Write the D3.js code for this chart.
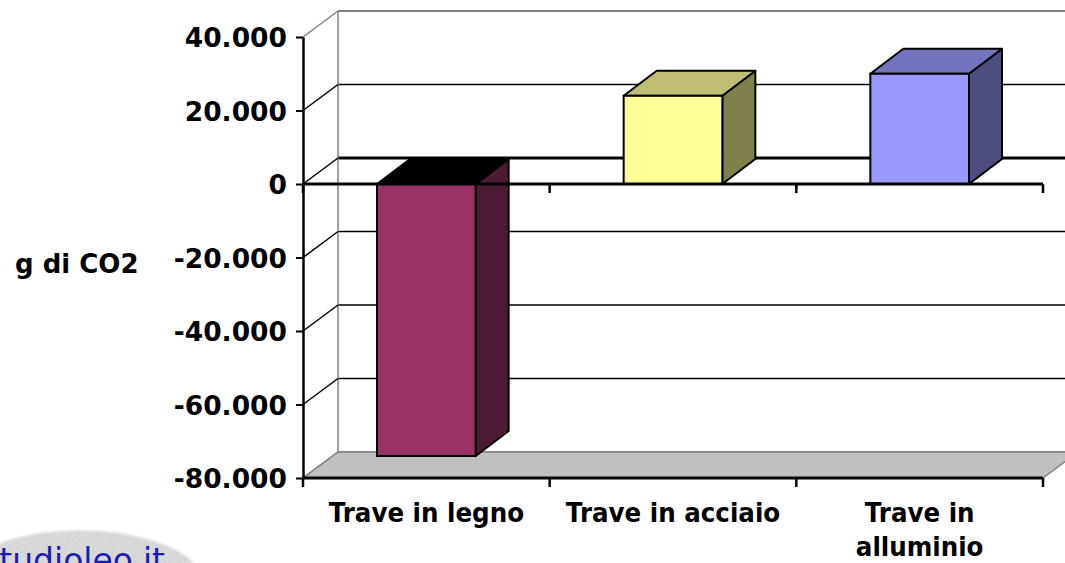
<!DOCTYPE html>
<html>
<head>
<meta charset="utf-8">
<script src="https://cdn.jsdelivr.net/npm/d3@7"></script>
<style>
  html, body { margin: 0; padding: 0; background: #ffffff; }
  svg { display: block; }
</style>
</head>
<body>
<svg id="chart" width="1065" height="563"></svg>
<script>
// CO2 balance of three beam materials (grams of CO2)
const categories = ["Trave in legno", "Trave in acciaio", "Trave in alluminio"];
const categoryLines = [["Trave in legno"], ["Trave in acciaio"], ["Trave in", "alluminio"]];
const values = [-74000, 24000, 30000];
const yTicks = [-80000, -60000, -40000, -20000, 0, 20000, 40000];
const yTitle = "g di CO2";
const watermark = "studioleo.it";

// palette: front, side and top faces of each column
const frontColors = ["#993366", "#ffff99", "#9999ff"];
const sideColors  = ["#4d1a33", "#80804d", "#4d4d80"];
const topColors   = ["#000000", "#bfbf73", "#7373bf"];

const svg = d3.select("#chart");

// Italian number format: 40.000, -80.000
const it = d3.formatLocale({ decimal: ",", thousands: ".", grouping: [3], currency: ["€", ""], minus: "-" });
const fmt = it.format(",.0f");

const y = d3.scaleLinear().domain([-80000, 40000]).range([478, 37]);
const x = d3.scaleBand().domain(categories).range([303, 1043]).paddingInner(0).paddingOuter(0);

// depth of the 3D box (wall) and of the columns
const wall = { dx: 35, dy: -26 };
const depth = { dx: 33, dy: -25 };
const xL = x.range()[0], xR = x.range()[1];

// --- watermark blob in the lower-left corner
const defs = svg.append("defs");
const grain = defs.append("filter").attr("id", "grain").attr("x", 0).attr("y", 0).attr("width", 1).attr("height", 1);
grain.append("feTurbulence").attr("type", "fractalNoise").attr("baseFrequency", 0.9).attr("numOctaves", 2).attr("seed", 7).attr("result", "noise");
grain.append("feColorMatrix").attr("in", "noise").attr("type", "matrix")
  .attr("values", "0 0 0 0 0.5  0 0 0 0 0.5  0 0 0 0 0.5  1.6 0 0 0 -0.5").attr("result", "speck");
grain.append("feComposite").attr("in", "speck").attr("in2", "SourceGraphic").attr("operator", "in");
const soft = defs.append("filter").attr("id", "soft");
soft.append("feGaussianBlur").attr("stdDeviation", 1);

const wm = svg.append("g").attr("class", "watermark");
wm.append("ellipse").attr("cx", 80).attr("cy", 585).attr("rx", 125).attr("ry", 55)
  .attr("fill", "#dedede").attr("filter", "url(#soft)");
wm.append("ellipse").attr("cx", 80).attr("cy", 585).attr("rx", 123).attr("ry", 53)
  .attr("fill", "#000").attr("opacity", 0.6).attr("filter", "url(#grain)");
wm.append("text").attr("x", -18).attr("y", 572)
  .attr("font-family", "DejaVu Sans, Verdana, sans-serif").attr("font-size", 33)
  .attr("fill", "#1c1cb4").text(watermark);

// --- back wall gridlines
const back = svg.append("g").attr("class", "back-wall");
back.selectAll("line.grid").data(yTicks).join("line")
  .attr("class", "grid")
  .attr("x1", xL + wall.dx).attr("x2", xR + wall.dx + 60)
  .attr("y1", d => y(d) + wall.dy).attr("y2", d => y(d) + wall.dy)
  .attr("stroke", d => (d === 40000 || d === -80000) ? "#808080" : "#000")
  .attr("stroke-width", d => d === 0 ? 3 : (d === 40000 ? 2 : 1.5));
back.append("line")
  .attr("x1", xL + wall.dx).attr("x2", xL + wall.dx)
  .attr("y1", y(40000) + wall.dy).attr("y2", y(-80000) + wall.dy)
  .attr("stroke", "#808080").attr("stroke-width", 1.5);

// side wall diagonals
back.selectAll("line.diag").data(yTicks).join("line")
  .attr("class", "diag")
  .attr("x1", xL).attr("y1", d => y(d))
  .attr("x2", xL + wall.dx).attr("y2", d => y(d) + wall.dy)
  .attr("stroke", d => (d === 40000 || d === -80000) ? "#808080" : "#000")
  .attr("stroke-width", 1.5);

// floor
const fy = y(-80000);
svg.append("polygon")
  .attr("points", [[xL, fy], [xR, fy], [xR + wall.dx, fy + wall.dy], [xL + wall.dx, fy + wall.dy]].map(p => p.join(",")).join(" "))
  .attr("fill", "#c0c0c0").attr("stroke", "#808080").attr("stroke-width", 1.5);

// --- columns
const barW = x.bandwidth() * 0.4;
const bars = svg.append("g").attr("class", "bars")
  .selectAll("g").data(categories).join("g");

bars.each(function (c, i) {
  const g = d3.select(this);
  const x0 = x(c) + (x.bandwidth() - barW) / 2, x1 = x0 + barW;
  const yTop = Math.min(y(0), y(values[i])), yBot = Math.max(y(0), y(values[i]));
  const poly = pts => pts.map(p => p.join(",")).join(" ");
  g.append("polygon")
    .attr("points", poly([[x1, yTop], [x1 + depth.dx, yTop + depth.dy], [x1 + depth.dx, yBot + depth.dy], [x1, yBot]]))
    .attr("fill", sideColors[i]).attr("stroke", "#000").attr("stroke-width", 2).attr("stroke-linejoin", "round");
  g.append("polygon")
    .attr("points", poly([[x0, yTop], [x0 + depth.dx, yTop + depth.dy], [x1 + depth.dx, yTop + depth.dy], [x1, yTop]]))
    .attr("fill", topColors[i]).attr("stroke", "#000").attr("stroke-width", 2).attr("stroke-linejoin", "round");
  g.append("rect")
    .attr("x", x0).attr("y", yTop).attr("width", barW).attr("height", yBot - yTop)
    .attr("fill", frontColors[i]).attr("stroke", "#000").attr("stroke-width", 2);
});

// --- value axis
const yAxis = svg.append("g").attr("transform", `translate(${xL},0)`)
  .call(d3.axisLeft(y).tickValues(yTicks).tickFormat(fmt).tickSize(7).tickSizeOuter(0).tickPadding(9));
yAxis.select(".domain").attr("stroke", "#000").attr("stroke-width", 2.5);
yAxis.selectAll(".tick line").attr("stroke", "#000").attr("stroke-width", 2);
yAxis.selectAll(".tick text")
  .attr("font-family", "DejaVu Sans, Verdana, sans-serif").attr("font-weight", "bold")
  .attr("font-size", 26.5).attr("fill", "#000").attr("dy", "0.36em");

// --- category axes at zero and at the floor
const bounds = [xL].concat(categories.map(c => x(c) + x.bandwidth()));
[0, -80000].forEach(v => {
  const g = svg.append("g");
  g.append("line").attr("x1", xL).attr("x2", xR).attr("y1", y(v)).attr("y2", y(v))
    .attr("stroke", "#000").attr("stroke-width", 3.2);
  g.selectAll("line.t").data(bounds).join("line").attr("class", "t")
    .attr("x1", d => d).attr("x2", d => d).attr("y1", y(v)).attr("y2", y(v) + 9)
    .attr("stroke", "#000").attr("stroke-width", 2.5);
});

// category labels
const labels = svg.append("g").selectAll("g").data(categories).join("g")
  .attr("transform", c => `translate(${x(c) + x.bandwidth() / 2},522) scale(0.91,1)`);
labels.append("text")
  .attr("text-anchor", "middle")
  .attr("font-family", "DejaVu Sans, Verdana, sans-serif").attr("font-weight", "bold")
  .attr("font-size", 27).attr("fill", "#000")
  .selectAll("tspan").data((c, i) => categoryLines[i]).join("tspan")
  .attr("x", 0).attr("dy", (d, j) => j === 0 ? 0 : 34).text(d => d);

// axis title
svg.append("text").attr("x", 15).attr("y", 273)
  .attr("font-family", "DejaVu Sans, Verdana, sans-serif").attr("font-weight", "bold")
  .attr("font-size", 26).attr("fill", "#000").text(yTitle);
</script>
</body>
</html>
